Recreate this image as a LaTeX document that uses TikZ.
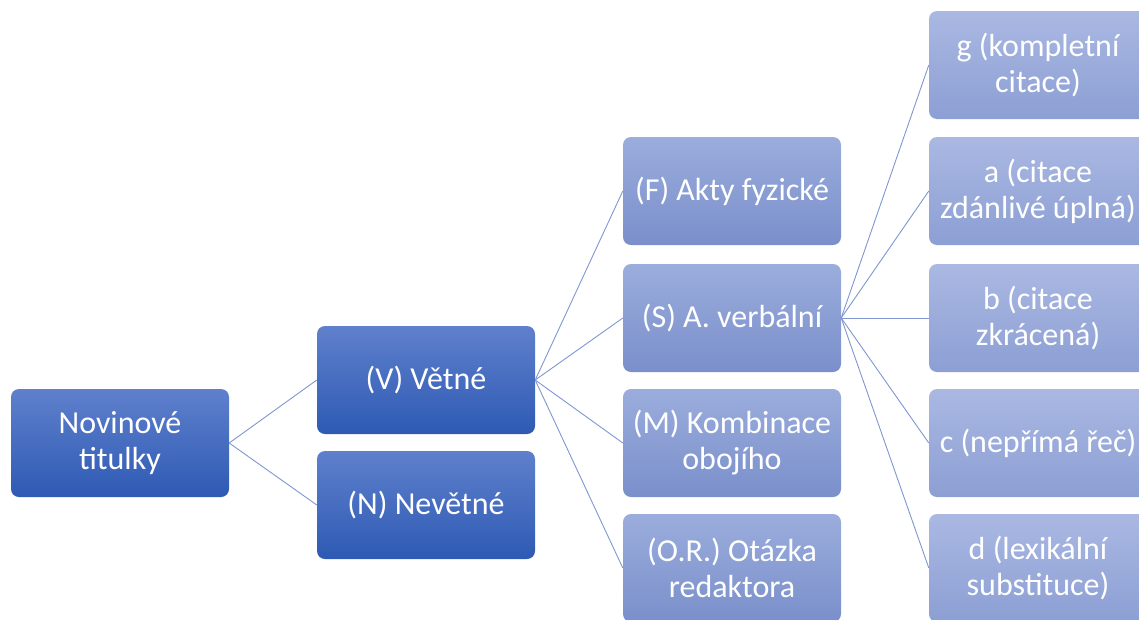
\documentclass[tikz,border=0pt]{standalone}
\usepackage{fontspec}
\setmainfont{Carlito}
\begin{document}
\begin{tikzpicture}[x=1pt,y=-1pt,
  box/.style={rounded corners=8pt, minimum width=218pt, minimum height=108pt, inner sep=0pt,
    text=white, align=center, font=\fontsize{32}{36}\selectfont},
  dark/.style={box, top color=darkTop, bottom color=darkBot},
  mid/.style={box, top color=midTop, bottom color=midBot},
  lite/.style={box, top color=liteTop, bottom color=liteBot},
  link/.style={draw=linkc, line width=0.9pt}]
\definecolor{darkTop}{HTML}{5F80CC}
\definecolor{darkBot}{HTML}{2E5AB4}
\definecolor{midTop}{HTML}{9BADDC}
\definecolor{midBot}{HTML}{7A8FCB}
\definecolor{liteTop}{HTML}{AAB8E2}
\definecolor{liteBot}{HTML}{8C9FD4}
\definecolor{linkc}{HTML}{7F96D0}
\useasboundingbox (0,0) rectangle (1139,619);
\clip (0,0) rectangle (1139,619);
\node[dark] (root) at (120,443) {Novinové\\titulky};
\node[dark] (v) at (426,380) {(V) Větné};
\node[dark] (n) at (426,505) {(N) Nevětné};
\node[mid] (f) at (732,191) {(F) Akty fyzické};
\node[mid] (s) at (732,318) {(S) A. verbální};
\node[mid] (m) at (732,443) {(M) Kombinace\\obojího};
\node[mid] (or) at (732,568) {(O.R.) Otázka\\redaktora};
\node[lite] (g) at (1038,65) {g (kompletní\\citace)};
\node[lite] (a) at (1038,191) {a (citace\\zdánlivé úplná)};
\node[lite] (b) at (1038,318) {b (citace\\zkrácená)};
\node[lite] (c) at (1038,443) {c (nepřímá řeč)};
\node[lite] (d) at (1038,568) {d (lexikální\\substituce)};
\draw[link] (root.east) -- (v.west);
\draw[link] (root.east) -- (n.west);
\foreach \t in {f,s,m,or} \draw[link] (v.east) -- (\t.west);
\foreach \t in {g,a,b,c,d} \draw[link] (s.east) -- (\t.west);
\end{tikzpicture}
\end{document}
